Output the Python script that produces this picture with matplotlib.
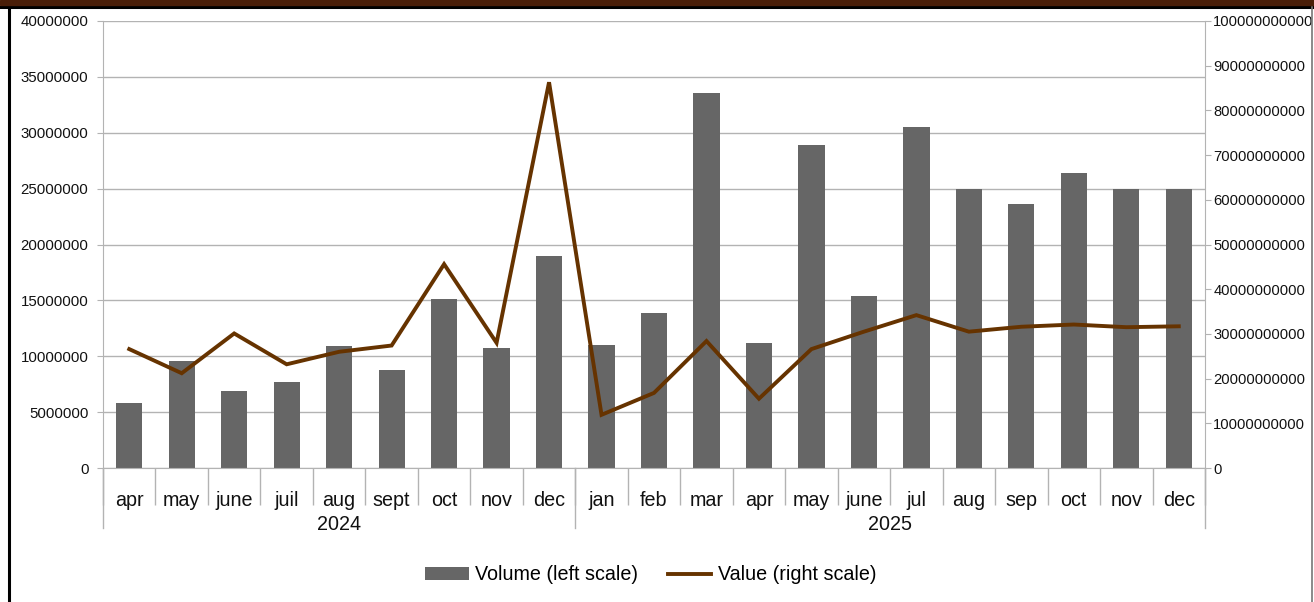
import matplotlib
matplotlib.use("Agg")
import matplotlib.pyplot as plt
from matplotlib.lines import Line2D
from matplotlib.patches import Rectangle
import numpy as np

plt.rcParams['font.family'] = ['Liberation Sans', 'DejaVu Sans']

months = ["apr", "may", "june", "juil", "aug", "sept", "oct", "nov", "dec",
          "jan", "feb", "mar", "apr", "may", "june", "jul", "aug", "sep", "oct", "nov", "dec"]
years = ["2024", "2025"]
year_counts = [9, 12]
volume = [5.85e6, 9.6e6, 6.9e6, 7.7e6, 10.9e6, 8.8e6, 15.1e6, 10.75e6, 19.0e6,
          11.0e6, 13.9e6, 33.6e6, 11.2e6, 28.9e6, 15.4e6, 30.5e6, 25.0e6, 23.6e6, 26.4e6, 25.0e6, 25.0e6]
value = [26.6e9, 21.2e9, 30.1e9, 23.2e9, 26.0e9, 27.4e9, 45.6e9, 28.0e9, 86.3e9,
         11.9e9, 16.8e9, 28.4e9, 15.5e9, 26.6e9, 30.5e9, 34.2e9, 30.5e9, 31.6e9, 32.1e9, 31.5e9, 31.7e9]
left_ticks = [0, 5000000, 10000000, 15000000, 20000000, 25000000, 30000000, 35000000, 40000000]
right_ticks = [0, 1e10, 2e10, 3e10, 4e10, 5e10, 6e10, 7e10, 8e10, 9e10, 1e11]

W, H = 1314, 602
fig = plt.figure(figsize=(W / 100, H / 100), dpi=100)
ax = fig.add_axes([103 / W, 1 - 468 / H, (1205 - 103) / W, (468 - 21) / H])
ax2 = ax.twinx()

grid_c = "#b3b3b3"
fs = 10.8
fs_cat = 14.2
x = np.arange(len(months))
bars = ax.bar(x, volume, width=0.5, color="#666666", zorder=2, label="Volume (left scale)")
line, = ax2.plot(x, value, color="#663300", lw=2.8, zorder=3, label="Value (right scale)",
                 solid_joinstyle="miter")

ax.set_xlim(-0.5, len(months) - 0.5)
ax.set_ylim(0, 40000000)
ax2.set_ylim(0, 1e11)
ax.set_yticks(left_ticks)
ax.set_yticklabels([str(v) for v in left_ticks], fontsize=fs)
ax2.set_yticks(right_ticks)
ax2.set_yticklabels([str(int(v)) for v in right_ticks], fontsize=10.6)
ax.yaxis.grid(True, color=grid_c, lw=1)
ax.set_axisbelow(True)

for a in (ax, ax2):
    for s in a.spines.values():
        s.set_visible(False)
ax.spines['left'].set_visible(True)
ax.spines['left'].set_color(grid_c)
ax.spines['bottom'].set_visible(True)
ax.spines['bottom'].set_color(grid_c)
ax2.spines['right'].set_visible(True)
ax2.spines['right'].set_color(grid_c)

ax.tick_params(axis='y', length=4.5, color=grid_c, pad=6, labelcolor="#111111")
ax2.tick_params(axis='y', length=4.5, color=grid_c, pad=1.5, labelcolor="#111111")

# x categories
ax.set_xticks(np.arange(-0.5, len(months), 1.0))
ax.set_xticklabels([])
ax.tick_params(axis='x', which='major', length=26.5, color=grid_c, width=1)
ax.set_xticks(x, minor=True)
ax.set_xticklabels(months, minor=True, fontsize=fs_cat)
ax.tick_params(axis='x', which='minor', length=0, pad=16.5, labelcolor="#111111")

# year labels and separators
trans = ax.get_xaxis_transform()
start = 0
bounds = [-0.5]
for yr, n in zip(years, year_counts):
    center = start + (n - 1) / 2
    ax.text(center, -56 / 447, yr, transform=trans, ha="center", va="center", fontsize=fs_cat, color="#111111")
    start += n
    bounds.append(start - 0.5)
for b in bounds:
    ax.add_line(Line2D([b, b], [0, -60 / 447], transform=trans, color=grid_c, lw=1, clip_on=False))

# legend
fig.legend(handles=[bars, line], loc="center", bbox_to_anchor=(651 / W, 1 - 575 / H), ncol=2,
           frameon=False, fontsize=fs_cat, handlelength=2.2, handleheight=0.65, columnspacing=1.5,
           handletextpad=0.35)

# frame decorations
fig.add_artist(Rectangle((0, 1 - 5 / H), 1, 5 / H, transform=fig.transFigure, color="#4a1e08", zorder=10))
fig.add_artist(Line2D([0, 1], [1 - 7 / H, 1 - 7 / H], transform=fig.transFigure, color="black", lw=2.2))
fig.add_artist(Line2D([8.5 / W, 8.5 / W], [0, 1 - 7 / H], transform=fig.transFigure, color="black", lw=2.2))
fig.add_artist(Line2D([1312 / W, 1312 / W], [0, 1 - 7 / H], transform=fig.transFigure, color="#777777", lw=1.2))

fig.savefig("out.png", dpi=100)
